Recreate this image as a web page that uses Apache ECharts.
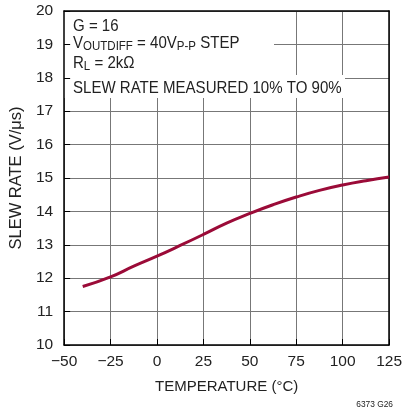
<!DOCTYPE html>
<html>
<head>
<meta charset="utf-8">
<script src="https://cdn.jsdelivr.net/npm/echarts@6/dist/echarts.min.js"></script>
<style>
html,body{margin:0;padding:0;background:#fff;}
#c{width:405px;height:412px;}
</style>
</head>
<body>
<div id="c"></div>
<script>
const temperature = [-40, -25, -12.5, 0, 12.5, 25, 37.5, 50, 62.5, 75, 87.5, 100, 112.5, 125];
const slewRate = [11.75, 12.04, 12.36, 12.66, 12.98, 13.31, 13.65, 13.94, 14.2, 14.43, 14.63, 14.79, 14.92, 15.03];
const xTicks = [-50, -25, 0, 25, 50, 75, 100, 125];
const yTicks = [10, 11, 12, 13, 14, 15, 16, 17, 18, 19, 20];
const noteLines = ['G = 16', '{a|V}{s|OUTDIFF}{a| = 40V}{s|P-P}{a| STEP}', '{a|R}{s|L}{a| = 2kΩ}', 'SLEW RATE MEASURED 10% TO 90%'];

const FONT = '"Liberation Sans", Arial, sans-serif';
const chart = echarts.init(document.getElementById('c'), null, {renderer: 'canvas'});

const gridColor = '#777777';
const baseX = {min: -50, max: 125, interval: 25};
const baseY = {min: 10, max: 20, interval: 1};
const rich = {
  a: {fill: '#222', fontFamily: FONT, fontSize: 17, lineHeight: 20},
  s: {fill: '#222', fontFamily: FONT, fontSize: 13, lineHeight: 20, padding: [6, 0, 0, 0]}
};
function note(text, y) {
  return {type: 'text', z: 6, x: 73, y: y, scaleX: 0.885,
    style: {text: text, rich: rich, fill: '#222', fontFamily: FONT, fontSize: 17,
      align: 'left', verticalAlign: 'middle'}};
}

const option = {
  animation: false,
  backgroundColor: '#fff',
  grid: {left: 62, right: 9, top: 11, bottom: 67},
  xAxis: [
    Object.assign({
      type: 'value', position: 'bottom', z: 0,
      axisLine: {show: false}, axisTick: {show: false},
      splitLine: {show: true, lineStyle: {color: gridColor, width: 1}},
      axisLabel: {color: '#222', fontFamily: FONT, fontSize: 15.5, margin: 9,
        formatter: v => (v < 0 ? '\u2212' + Math.abs(v) : String(v))},
      name: 'TEMPERATURE (°C)', nameLocation: 'middle', nameGap: 34,
      nameTextStyle: {color: '#222', fontFamily: FONT, fontSize: 15}
    }, baseX),
    Object.assign({
      type: 'value', position: 'bottom', z: 10,
      axisLine: {show: true, onZero: false, lineStyle: {color: '#000', width: 1.5}},
      axisTick: {show: true, inside: true, length: 6, lineStyle: {color: '#000', width: 1}},
      splitLine: {show: false}, axisLabel: {show: false}
    }, baseX),
    Object.assign({
      type: 'value', position: 'top', z: 10,
      axisLine: {show: true, onZero: false, lineStyle: {color: '#000', width: 1.5}},
      axisTick: {show: false}, splitLine: {show: false}, axisLabel: {show: false}
    }, baseX)
  ],
  yAxis: [
    Object.assign({
      type: 'value', position: 'left', z: 0,
      axisLine: {show: false}, axisTick: {show: false},
      splitLine: {show: true, lineStyle: {color: gridColor, width: 1}},
      axisLabel: {color: '#222', fontFamily: FONT, fontSize: 15.5, margin: 11},
      name: 'SLEW RATE (V/μs)', nameLocation: 'middle', nameGap: 30, nameRotate: 90,
      nameTextStyle: {color: '#222', fontFamily: FONT, fontSize: 16.5}
    }, baseY),
    Object.assign({
      type: 'value', position: 'left', z: 10,
      axisLine: {show: true, onZero: false, lineStyle: {color: '#000', width: 1.5}},
      axisTick: {show: true, inside: true, length: 6, lineStyle: {color: '#000', width: 1}},
      splitLine: {show: false}, axisLabel: {show: false}
    }, baseY),
    Object.assign({
      type: 'value', position: 'right', z: 10,
      axisLine: {show: true, onZero: false, lineStyle: {color: '#000', width: 1.5}},
      axisTick: {show: false}, splitLine: {show: false}, axisLabel: {show: false}
    }, baseY)
  ],
  graphic: [
    {type: 'rect', z: 5, shape: {x: 63, y: 12, width: 211, height: 64}, style: {fill: '#fff'}},
    {type: 'rect', z: 5, shape: {x: 63, y: 75, width: 282, height: 23}, style: {fill: '#fff'}},
    note(noteLines[0], 26),
    note(noteLines[1], 43),
    note(noteLines[2], 63),
    note(noteLines[3], 88),
    {type: 'text', z: 6, x: 393, y: 404, scaleX: 0.88,
      style: {text: '6373 G26', fill: '#222', fontFamily: FONT, fontSize: 9.5, align: 'right', verticalAlign: 'middle'}}
  ],
  series: [{
    type: 'line', xAxisIndex: 0, yAxisIndex: 0, z: 20,
    data: temperature.map((t, i) => [t, slewRate[i]]),
    smooth: true, showSymbol: false,
    lineStyle: {color: '#9b0b38', width: 3}
  }]
};
chart.setOption(option);
</script>
</body>
</html>
